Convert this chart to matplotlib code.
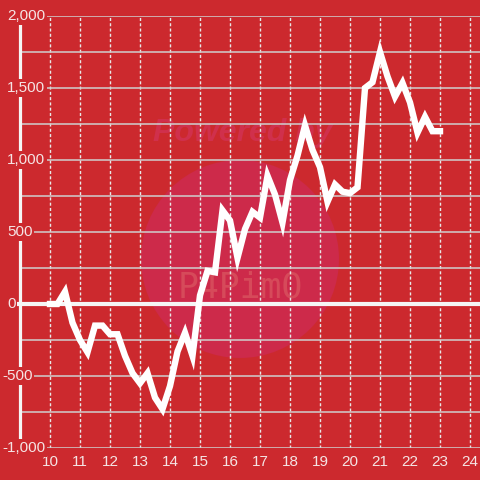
import numpy as np
import matplotlib.pyplot as plt
from matplotlib.patches import Circle

# Datos de la serie (x cada 0.25)
x_vals = np.arange(10.0, 23.01, 0.25)
y_vals = [0, 0, 85, -130, -250, -335, -150, -150, -210, -210,
          -360, -480, -550, -480, -650, -730, -570, -330, -200, -360,
          60, 230, 220, 650, 580, 320, 520, 640, 600, 890,
          760, 565, 860, 1030, 1240, 1070, 950, 710, 830, 780,
          770, 810, 1500, 1540, 1750, 1580, 1440, 1535, 1400, 1190,
          1300, 1200, 1200]
x_ticks = list(range(10, 25))
y_ticks = [-1000, -500, 0, 500, 1000, 1500, 2000]
y_labels = ['-1,000', '-500', '0', '500', '1,000', '1,500', '2,000']

bg = '#cc292e'
txt = '#f5e4e4'

plt.rcParams['font.family'] = ['Liberation Sans', 'DejaVu Sans']
plt.rcParams['axes.unicode_minus'] = False

fig = plt.figure(figsize=(4.8, 4.8), dpi=100, facecolor=bg)
ax = fig.add_axes([20 / 480, 32 / 480, 460 / 480, 432 / 480])
ax.set_facecolor('none')

# marca de agua
fig.patches.append(Circle((240 / 480, 1 - 259 / 480), 99 / 480, transform=fig.transFigure,
                          facecolor='#cd2a4a', edgecolor='none', zorder=-2))
fig.text(243 / 480, 1 - 133 / 480, 'Powered by', transform=fig.transFigure, fontsize=23,
         fontweight='bold', style='italic', color='#d0304c', ha='center', va='center', zorder=-1)
fig.text(240 / 480, 1 - 287 / 480, 'P4PimO', transform=fig.transFigure, fontsize=25,
         color='#d64a5a', ha='center', va='center', zorder=-1, family='DejaVu Sans Mono')

ax.set_xlim(9.0, 24 + 10 / 30)
ax.set_ylim(-1000, 2000)

ax.set_axisbelow(True)
ax.set_yticks(np.arange(-1000, 2001, 250))
ax.set_xticks(x_ticks)
ax.set_xticklabels([str(t) for t in x_ticks])
ax.tick_params(axis='x', length=0, pad=5, labelsize=11, labelcolor=txt)
ax.tick_params(axis='y', length=0, labelleft=False)
ax.grid(axis='y', color='#cfcfcf', lw=1.1)
ax.grid(axis='x', color='#e8e8e8', lw=1.0, linestyle=(0, (2.2, 1.6)))

for s in ['top', 'right', 'bottom']:
    ax.spines[s].set_visible(False)
ax.spines['left'].set_color('#f5f5f5')
ax.spines['left'].set_linewidth(2.3)

ax.axhline(0, xmin=-3 / 460, xmax=1, color='#f5f5f5', lw=3, zorder=3, clip_on=False)
ax.plot(x_vals, y_vals, color='white', lw=4.6, zorder=4, solid_joinstyle='miter')

ytr = ax.get_yaxis_transform()
for v, lab in zip(y_ticks, y_labels):
    xpos = (2 - 20) / 460 if v < 0 else (7 - 20) / 460
    ax.text(xpos, v, lab, transform=ytr, ha='left', va='center', fontsize=11, color=txt,
            zorder=6, clip_on=False,
            bbox=dict(facecolor=bg, edgecolor='none', pad=1.2))

fig.savefig('out.png', dpi=100, facecolor=bg)
